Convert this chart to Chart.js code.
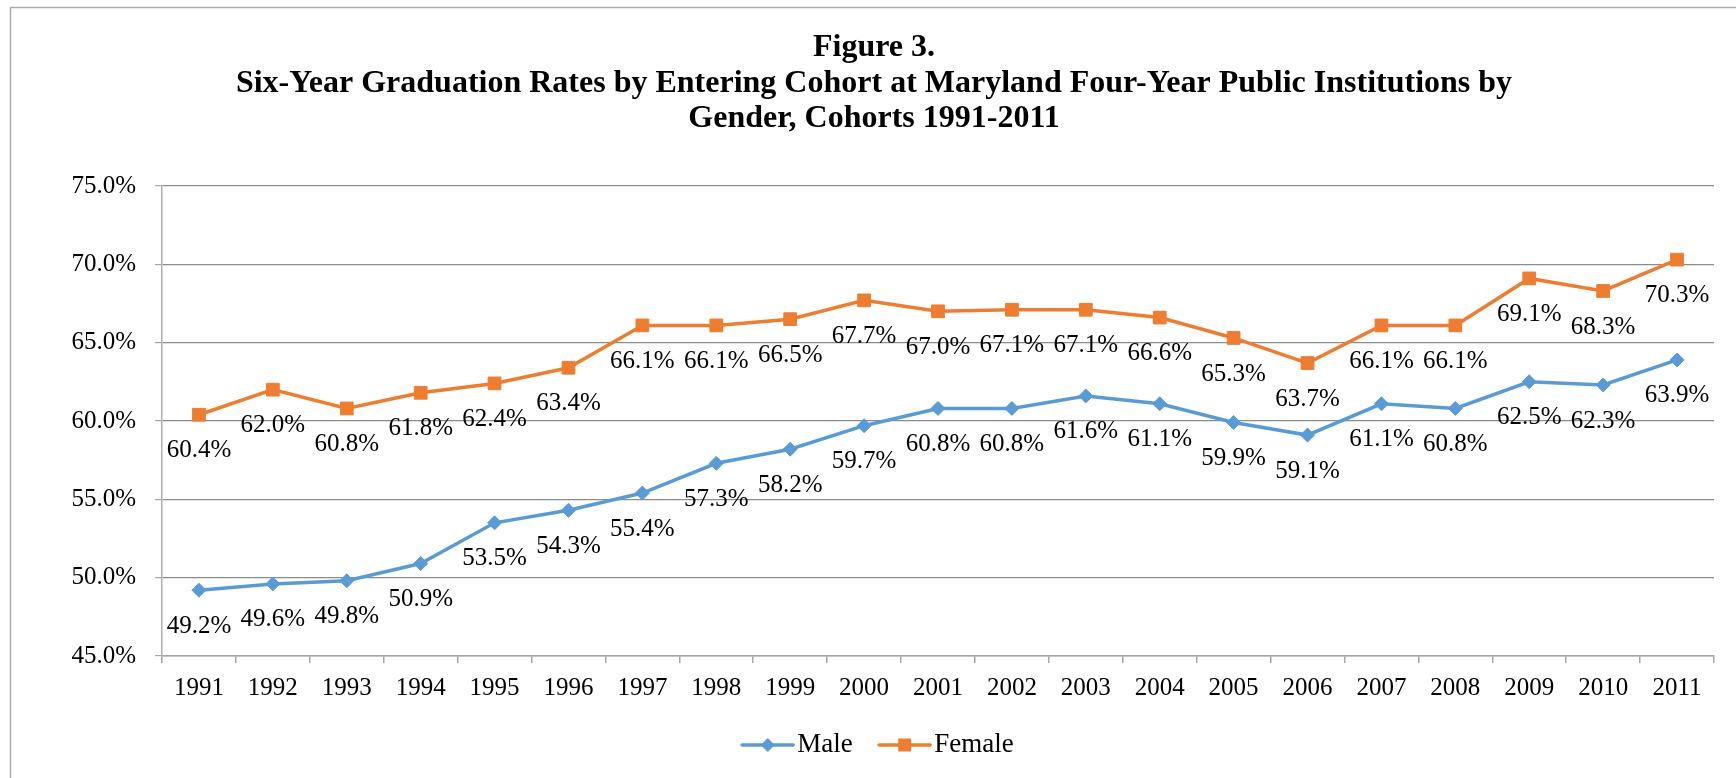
<!DOCTYPE html>
<html>
<head>
<meta charset="utf-8">
<script src="https://cdn.jsdelivr.net/npm/chart.js@4"></script>
<style>
  html, body { margin: 0; padding: 0; background: #ffffff; }
  #wrap { width: 1736px; height: 778px; position: relative; }
</style>
</head>
<body>
<div id="wrap"><canvas id="c" width="1736" height="778"></canvas></div>
<script>
const titleLines = [
  'Figure 3.',
  'Six-Year Graduation Rates by Entering Cohort at Maryland Four-Year Public Institutions by',
  'Gender, Cohorts 1991-2011'
];
const cohorts = ['1991','1992','1993','1994','1995','1996','1997','1998','1999','2000','2001','2002','2003','2004','2005','2006','2007','2008','2009','2010','2011'];
const maleRates = [49.2, 49.6, 49.8, 50.9, 53.5, 54.3, 55.4, 57.3, 58.2, 59.7, 60.8, 60.8, 61.6, 61.1, 59.9, 59.1, 61.1, 60.8, 62.5, 62.3, 63.9];
const femaleRates = [60.4, 62.0, 60.8, 61.8, 62.4, 63.4, 66.1, 66.1, 66.5, 67.7, 67.0, 67.1, 67.1, 66.6, 65.3, 63.7, 66.1, 66.1, 69.1, 68.3, 70.3];
const seriesNames = ['Male', 'Female'];
const yTicks = [45, 50, 55, 60, 65, 70, 75];

const BLUE = '#5B9BD5';
const ORANGE = '#ED7D31';
const FONT = "'Liberation Serif', 'Times New Roman', serif";

function legendImage(color, shape) {
  const cv = document.createElement('canvas');
  cv.width = 55; cv.height = 18;
  const g = cv.getContext('2d');
  g.strokeStyle = color; g.lineWidth = 3.5; g.lineCap = 'round';
  g.beginPath(); g.moveTo(2, 9); g.lineTo(53, 9); g.stroke();
  g.fillStyle = color;
  if (shape === 'diamond') {
    g.beginPath(); g.moveTo(27.5, 2); g.lineTo(34.5, 9); g.lineTo(27.5, 16); g.lineTo(20.5, 9); g.closePath(); g.fill();
  } else {
    g.fillRect(21, 2.5, 13, 13);
  }
  return cv;
}
const legendImgs = [legendImage(BLUE, 'diamond'), legendImage(ORANGE, 'square')];

const framePlugin = {
  id: 'frame',
  afterLayout(chart) {
    if (chart.legend) { chart.legend.left += 8.7; chart.legend.right += 8.7; }
  },
  beforeDraw(chart) {
    const ctx = chart.ctx;
    ctx.save();
    ctx.fillStyle = '#ffffff';
    ctx.fillRect(0, 0, chart.width, chart.height);
    ctx.strokeStyle = '#ababab';
    ctx.lineWidth = 1.5;
    ctx.beginPath();
    ctx.moveTo(10.5, chart.height);
    ctx.lineTo(10.5, 7.5);
    ctx.lineTo(chart.width, 7.5);
    ctx.stroke();
    ctx.restore();
  }
};

const valueLabelPlugin = {
  id: 'valueLabels',
  afterDatasetsDraw(chart) {
    const ctx = chart.ctx;
    ctx.save();
    ctx.font = '25px ' + FONT;
    ctx.fillStyle = '#000000';
    ctx.textAlign = 'center';
    ctx.textBaseline = 'middle';
    chart.data.datasets.forEach((ds, i) => {
      const meta = chart.getDatasetMeta(i);
      meta.data.forEach((pt, j) => {
        ctx.fillText(ds.data[j].toFixed(1) + '%', pt.x, pt.y + 36);
      });
    });
    ctx.restore();
  }
};

new Chart(document.getElementById('c'), {
  type: 'line',
  data: {
    labels: cohorts,
    datasets: [
      {
        label: seriesNames[0],
        data: maleRates,
        borderColor: BLUE,
        backgroundColor: BLUE,
        borderWidth: 3.5,
        pointStyle: 'rectRot',
        pointRadius: 7,
        pointBorderWidth: 1,
        pointBackgroundColor: BLUE,
        pointBorderColor: BLUE,
        tension: 0
      },
      {
        label: seriesNames[1],
        data: femaleRates,
        borderColor: ORANGE,
        backgroundColor: ORANGE,
        borderWidth: 3.5,
        pointStyle: 'rect',
        pointRadius: 9,
        pointBorderWidth: 1,
        pointBackgroundColor: ORANGE,
        pointBorderColor: ORANGE,
        tension: 0
      }
    ]
  },
  options: {
    responsive: false,
    animation: false,
    events: [],
    layout: { padding: { left: 12, right: 0, top: 0, bottom: 9.5 } },
    scales: {
      x: {
        type: 'category',
        offset: true,
        grid: { display: true, drawOnChartArea: false, offset: true, tickLength: 7, color: '#a6a6a6', lineWidth: 1.5 },
        border: { display: true, color: '#a6a6a6', width: 1.5 },
        ticks: { color: '#000', font: { family: FONT, size: 25 }, padding: 10, maxRotation: 0, autoSkip: false },
        afterFit(s) { s.height = 39.5; }
      },
      y: {
        type: 'linear',
        min: yTicks[0],
        max: yTicks[yTicks.length - 1],
        afterBuildTicks(s) { s.ticks = yTicks.map(v => ({ value: v })); },
        grid: { color: '#8c8c8c', lineWidth: 1.2, tickLength: 7, tickColor: '#a6a6a6' },
        border: { display: true, color: '#b0b0b0', width: 1.5 },
        ticks: { color: '#000', font: { family: FONT, size: 25 }, padding: 19, callback: v => v.toFixed(1) + '%' },
        afterFit(s) { s.width = 150; }
      },
      yR: {
        type: 'linear',
        position: 'right',
        display: true,
        grid: { display: false, drawTicks: false },
        border: { display: false },
        ticks: { display: false },
        afterFit(s) { s.width = 22; }
      }
    },
    plugins: {
      title: {
        display: true,
        text: titleLines,
        color: '#000',
        font: { family: FONT, size: 32, weight: 'bold', lineHeight: '35.5px' },
        padding: { top: 30.2, bottom: 49.3 }
      },
      legend: {
        display: true,
        position: 'bottom',
        labels: {
          color: '#000',
          font: { family: FONT, size: 27 },
          usePointStyle: true,
          pointStyleWidth: 32,
          padding: 36,
          generateLabels(chart) {
            const items = Chart.defaults.plugins.legend.labels.generateLabels(chart);
            items.forEach((it, i) => { it.pointStyle = legendImgs[i]; });
            return items;
          }
        }
      },
      tooltip: { enabled: false }
    }
  },
  plugins: [framePlugin, valueLabelPlugin]
});
</script>
</body>
</html>
